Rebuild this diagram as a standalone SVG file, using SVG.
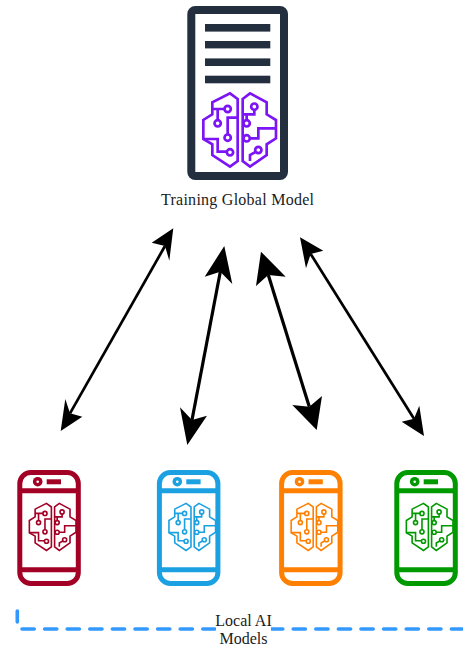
<svg xmlns="http://www.w3.org/2000/svg" xmlns:xlink="http://www.w3.org/1999/xlink" width="463" height="646" viewBox="0 0 463 646">
<style>
text{font-family:"Liberation Serif","DejaVu Serif",serif;font-size:16px;fill:#1a1a1a;text-anchor:middle}
.b{fill:none;stroke:currentColor;stroke-linejoin:miter}
.shaft{stroke:#000;fill:none}
.head{fill:#000}
.bar{fill:#232f3e}
.ph{fill:none;stroke:currentColor;stroke-width:5}
.pf{fill:currentColor}
</style>
<defs>
<g id="brain">
<path class="b" d="M128 42L105 25L52 52V88L25 105V162L52 178V210L105 245L128 228ZM143 42L165 25L215 52V88L243 105V160L215 178V210L165 245L143 228Z"/>
<path class="b" d="M52 72H90M68 72V107M128 98H98V150M25 162H68V200H97M178 73V88H143M155 88V107M165 160H190V130H243M183 200L165 210V228"/>
<circle class="b" cx="98" cy="72" r="9.5"/><circle class="b" cx="68" cy="115" r="9.5"/><circle class="b" cx="98" cy="158" r="9.5"/><circle class="b" cx="105" cy="202" r="9.5"/>
<circle class="b" cx="178" cy="65" r="9.5"/><circle class="b" cx="155" cy="115" r="9.5"/><circle class="b" cx="155" cy="160" r="9.5"/><circle class="b" cx="190" cy="195" r="9.5"/>
</g>
<g id="phone">
<rect class="ph" x="19.8" y="472.5" width="58.5" height="111" rx="11"/>
<path class="ph" d="M19.8 490.8H78.3M19.8 569.8H78.3"/>
<circle class="pf" cx="37.7" cy="481.7" r="4.8"/><circle cx="37.7" cy="481.7" r="1.3" fill="#fff"/>
<rect class="pf" x="46.7" y="479.3" width="14.3" height="5"/>
<use xlink:href="#brain" href="#brain" transform="translate(24 498) scale(.214)" stroke-width="7.5"/>
</g>
</defs>
<g id="server">
<rect x="191.3" y="10" width="92.7" height="166" rx="4" fill="#fff" stroke="#232f3e" stroke-width="8"/>
<rect class="bar" x="205" y="24" width="65.3" height="7.6"/>
<rect class="bar" x="205" y="41" width="65.3" height="7.4"/>
<rect class="bar" x="205" y="58.4" width="65.3" height="7.6"/>
<rect class="bar" x="205" y="75.7" width="65.3" height="7.6"/>
<use xlink:href="#brain" href="#brain" transform="translate(195 85) scale(.3333)" color="#7d14f5" stroke-width="8"/>
</g>
<g id="server-label"><text x="237.5" y="205" textLength="153" lengthAdjust="spacing">Training Global Model</text></g>
<g id="connectors">
<path class="shaft" stroke-width="2.7" d="M165 246L70 413.3"/>
<polygon class="head" points="173.3,228.3 151.7,242.7 165,246 169.3,260.7"/>
<polygon class="head" points="60.7,431 65.3,399 70,413.3 82.3,416.7"/>
<path class="shaft" stroke-width="3.2" d="M220.3 271.7L192 420"/>
<polygon class="head" points="224.3,246 204.7,276.7 220.3,271.7 232.3,284"/>
<polygon class="head" points="187.3,445 180,407.3 192,420 207,415.7"/>
<path class="shaft" stroke-width="3.2" d="M268.3 275L309.3 406.7"/>
<polygon class="head" points="261,251.7 256,286 268.3,275 285.7,276.7"/>
<polygon class="head" points="316.7,430 292.3,405 309.3,406.7 322,396"/>
<path class="shaft" stroke-width="2.7" d="M310.7 254L414 418.7"/>
<polygon class="head" points="300,237.3 306,268.3 310.7,254 323.3,250.7"/>
<polygon class="head" points="424,436 401.7,421.7 414,418.7 419.3,405.7"/>
</g>
<g id="phone-red" color="#a20025"><use xlink:href="#phone" href="#phone"/></g>
<g id="phone-blue" color="#1ba1e2"><use xlink:href="#phone" href="#phone" x="139.6"/></g>
<g id="phone-orange" color="#ff8000"><use xlink:href="#phone" href="#phone" x="261.8"/></g>
<g id="phone-green" color="#009900"><use xlink:href="#phone" href="#phone" x="377"/></g>
<g id="local-models">
<path d="M17.3 611V622M22 629H463" fill="none" stroke="#3399ff" stroke-width="3.6" stroke-linecap="round" stroke-dasharray="12.2 10.4"/>
<rect x="216" y="612" width="55" height="34" fill="#fff"/>
<text x="243.5" y="626">Local AI</text>
<text x="243.5" y="644">Models</text>
</g>
</svg>
